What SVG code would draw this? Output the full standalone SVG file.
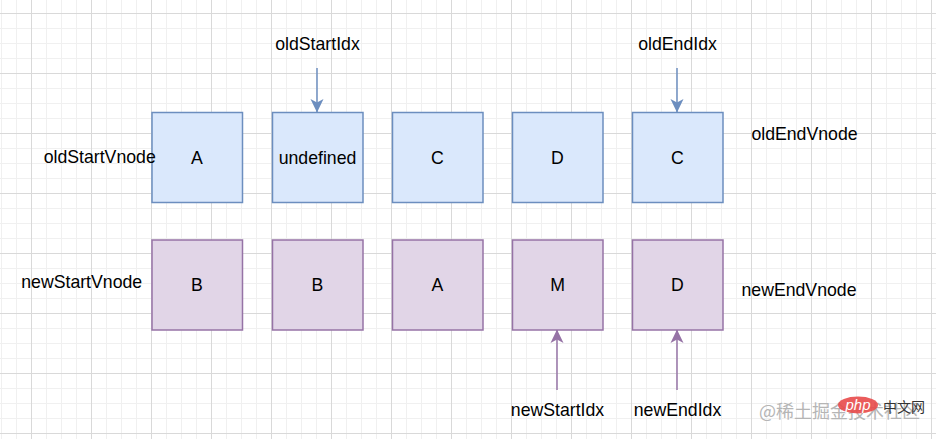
<svg xmlns="http://www.w3.org/2000/svg" width="936" height="439" viewBox="0 0 936 439">
<defs>
<pattern id="minor" x="1" y="13" width="15" height="15" patternUnits="userSpaceOnUse">
<path d="M0.5,0 V15 M0,0.5 H15" fill="none" stroke="#f0f0f0" stroke-width="1"/>
</pattern>
<pattern id="major" x="31" y="13" width="60" height="60" patternUnits="userSpaceOnUse">
<path d="M0.5,0 V60 M0,0.5 H60" fill="none" stroke="#d9d9d9" stroke-width="1"/>
</pattern>
<marker id="arrBlue" viewBox="0 0 14 14" refX="13" refY="7" markerWidth="14" markerHeight="14" markerUnits="userSpaceOnUse" orient="auto">
<path d="M0,0.5 L13.5,7 L0,13.5 L3.5,7 Z" fill="#6c8ebf"/>
</marker>
<marker id="arrPurple" viewBox="0 0 14 14" refX="13" refY="7" markerWidth="14" markerHeight="14" markerUnits="userSpaceOnUse" orient="auto">
<path d="M0,0.5 L13.5,7 L0,13.5 L3.5,7 Z" fill="#9673a6"/>
</marker>
</defs>
<style>
text{font-family:"Liberation Sans",Arial,Helvetica,sans-serif;font-size:17.7px;fill:#000;}
.c{text-anchor:middle;}
.old{fill:#dae8fc;stroke:#6c8ebf;stroke-width:1.5;}
.new{fill:#e1d5e7;stroke:#9673a6;stroke-width:1.5;}
.eb{stroke:#6c8ebf;stroke-width:1.5;fill:none;}
.ep{stroke:#9673a6;stroke-width:1.5;fill:none;}
.wm{font-family:"Noto Sans CJK SC","Liberation Sans",sans-serif;font-size:18px;fill:#b5b5b5;}
</style>
<rect width="936" height="439" fill="#ffffff"/>
<rect width="936" height="439" fill="url(#minor)"/>
<rect width="936" height="439" fill="url(#major)"/>

<g id="connectors">
<line class="eb" x1="317" y1="68" x2="317" y2="112" marker-end="url(#arrBlue)"/>
<line class="eb" x1="677" y1="68" x2="677" y2="112" marker-end="url(#arrBlue)"/>
<line class="ep" x1="557" y1="390" x2="557" y2="330" marker-end="url(#arrPurple)"/>
<line class="ep" x1="677" y1="390" x2="677" y2="330" marker-end="url(#arrPurple)"/>
</g>

<g id="old-A"><rect class="old" x="152" y="112.5" width="90.5" height="90"/><text class="c" x="197" y="163.5">A</text></g>
<g id="old-undefined"><rect class="old" x="272.5" y="112.5" width="90.5" height="90"/><text class="c" x="317.5" y="163.5">undefined</text></g>
<g id="old-C1"><rect class="old" x="392.5" y="112.5" width="90.5" height="90"/><text class="c" x="437.5" y="163.5">C</text></g>
<g id="old-D"><rect class="old" x="512.5" y="112.5" width="90.5" height="90"/><text class="c" x="557.5" y="163.5">D</text></g>
<g id="old-C2"><rect class="old" x="632.5" y="112.5" width="90.5" height="90"/><text class="c" x="677.5" y="163.5">C</text></g>

<g id="new-B1"><rect class="new" x="152" y="240" width="90.5" height="90"/><text class="c" x="197" y="291">B</text></g>
<g id="new-B2"><rect class="new" x="272.5" y="240" width="90.5" height="90"/><text class="c" x="317.5" y="291">B</text></g>
<g id="new-A"><rect class="new" x="392.5" y="240" width="90.5" height="90"/><text class="c" x="437.5" y="291">A</text></g>
<g id="new-M"><rect class="new" x="512.5" y="240" width="90.5" height="90"/><text class="c" x="557.5" y="291">M</text></g>
<g id="new-D"><rect class="new" x="632.5" y="240" width="90.5" height="90"/><text class="c" x="677.5" y="291">D</text></g>

<g id="label-oldStartIdx"><text class="c" x="317.5" y="50">oldStartIdx</text></g>
<g id="label-oldEndIdx"><text class="c" x="677.5" y="50">oldEndIdx</text></g>
<g id="label-newStartIdx"><text class="c" x="557.5" y="415.5">newStartIdx</text></g>
<g id="label-newEndIdx"><text class="c" x="677.5" y="415.5">newEndIdx</text></g>
<g id="label-oldStartVnode"><text class="c" x="99.7" y="163">oldStartVnode</text></g>
<g id="label-oldEndVnode"><text class="c" x="804.5" y="139.5">oldEndVnode</text></g>
<g id="label-newStartVnode"><text class="c" x="81.7" y="288">newStartVnode</text></g>
<g id="label-newEndVnode"><text class="c" x="799" y="295.5">newEndVnode</text></g>

<g id="watermark">
<text class="wm" x="759" y="418">@稀土掘金技术社区</text>
<ellipse cx="858" cy="405" rx="20" ry="8.5" fill="#e84a4a" opacity="0.9"/>
<text x="858" y="410" text-anchor="middle" style="font-size:15px;font-style:italic;fill:#ffffff;font-family:'Liberation Sans',Arial,sans-serif">php</text>
<text x="883" y="412" style="font-size:14px;fill:#333333;font-family:'Noto Sans CJK SC',sans-serif">中文网</text>
</g>
</svg>
